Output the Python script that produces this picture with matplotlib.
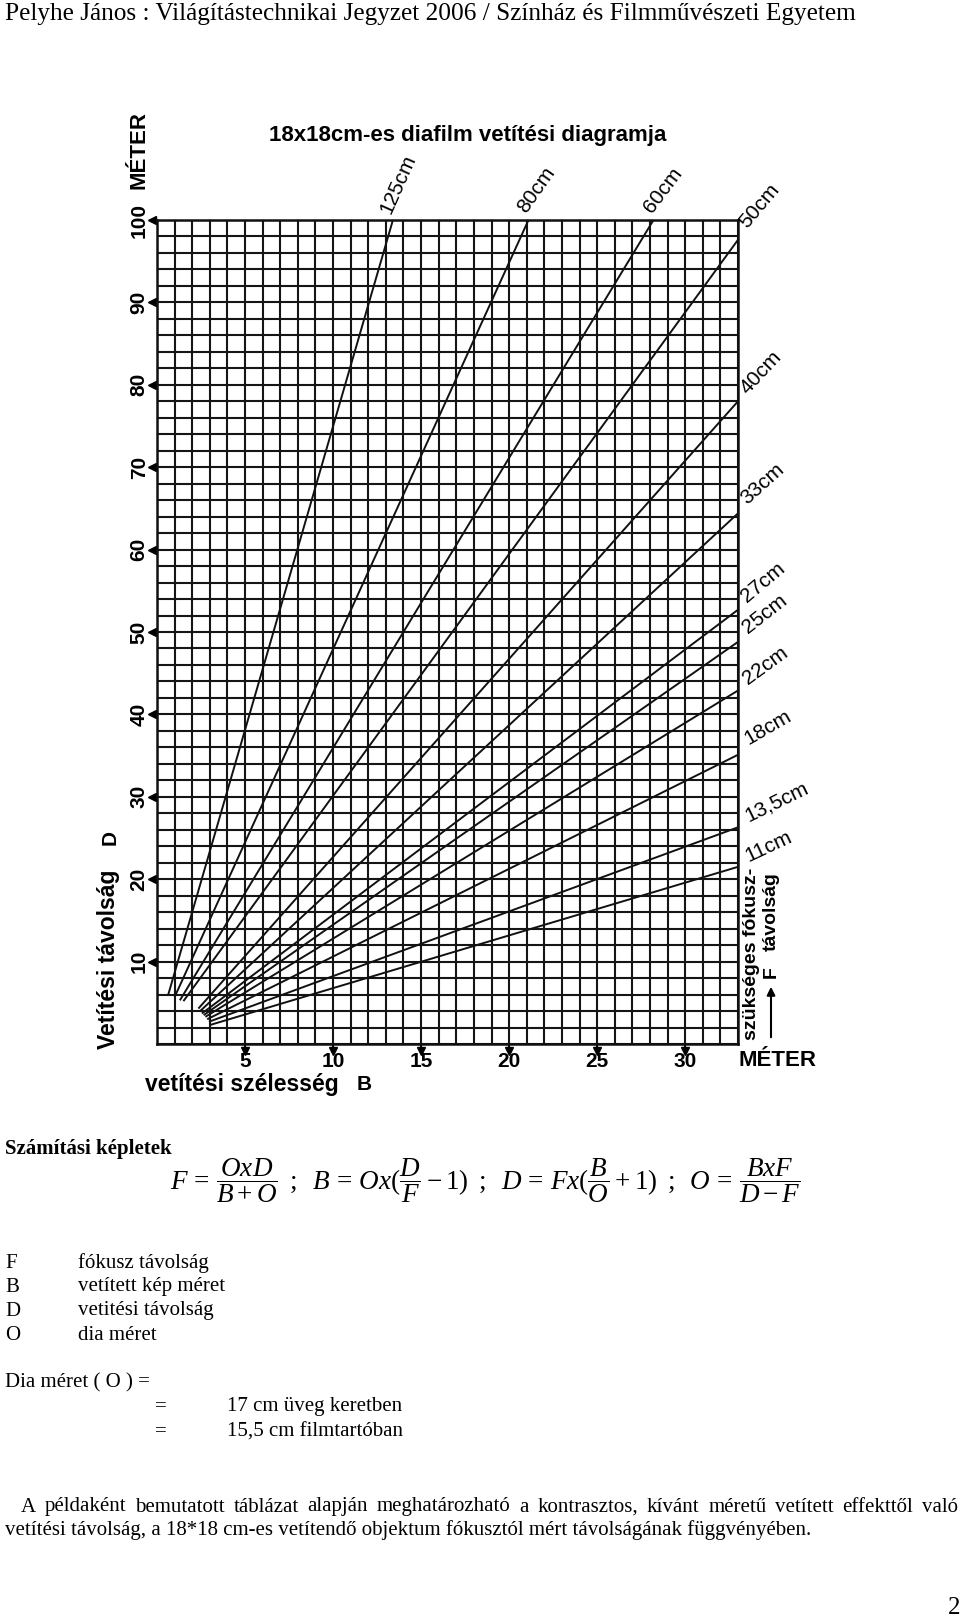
import matplotlib
matplotlib.use("Agg")
import matplotlib.pyplot as plt
import matplotlib.transforms as mtransforms
import numpy as np

# -----------------------------------------
# adatok: vonalak (fókusztávolság), kezdő és végpontok [méter]
# -----------------------------------------
focal_labels = ["125cm", "80cm", "60cm", "50cm", "40cm", "33cm",
                "27cm", "25cm", "22cm", "18cm", "13,5cm", "11cm"]
b_start = [0.64, 1.0, 1.3, 1.5, 2.35, 2.45, 2.55, 2.65, 2.75, 2.85, 2.95, 3.0]
d_start = [6.0, 5.7, 5.3, 5.2, 4.3, 4.0, 3.7, 3.5, 3.3, 3.0, 2.7, 2.3]
b_end = [13.4, 21.1, 28.2, 33, 33, 33, 33, 33, 33, 33, 33, 33]
d_end = [100, 100, 100, 97.6, 78.0, 64.4, 52.7, 48.8, 42.9, 35.1, 26.3, 21.5]

x_ticks = [5, 10, 15, 20, 25, 30]
y_ticks = [10, 20, 30, 40, 50, 60, 70, 80, 90, 100]

# címkék helye (pixel) és dőlésszöge
label_pos = [(394, 217), (529, 216), (655, 216), (750, 232), (750, 398), (750, 508),
             (750, 606), (750, 637), (750, 688), (750, 748), (750, 825), (750, 866)]
label_rot = [66, 55, 53, 50, 47, 42, 40, 38, 36, 30, 26, 25]

W, H = 960, 1620
SANS = ["Liberation Sans", "DejaVu Sans"]
SERIF = ["Liberation Serif", "DejaVu Serif"]
BODY = 15

plt.rcParams.update({
    "mathtext.fontset": "custom",
    "mathtext.rm": "Liberation Serif",
    "mathtext.it": "Liberation Serif:italic",
    "mathtext.bf": "Liberation Serif:bold",
})


def fx(px):
    return px / W


def fy(py):
    return 1 - py / H


fig = plt.figure(figsize=(9.6, 16.2), dpi=100)
fig.patch.set_facecolor("white")

# fejléc
fig.text(fx(5), fy(14), "Pelyhe János : Világítástechnikai Jegyzet 2006 / Színház és Filmművészeti Egyetem",
         family=SERIF, fontsize=18.2, ha="left", va="center")

# -----------------------------------------
# diagram
# -----------------------------------------
ax = fig.add_axes([fx(157), fy(1044), (738 - 157) / W, (1044 - 220) / H])
ax.set_xlim(0, 33)
ax.set_ylim(0, 100)
ax.set_xticks(np.arange(0, 34, 1), minor=True)
ax.set_yticks(np.arange(0, 101, 2), minor=True)
ax.set_xticks(x_ticks)
ax.set_yticks(y_ticks)
ax.set_xticklabels([str(v) for v in x_ticks], family=SANS, fontweight="bold", fontsize=15)
ax.set_yticklabels([str(v) for v in y_ticks], family=SANS, fontweight="bold", fontsize=15,
                   rotation=90, va="center")
ax.tick_params(which="both", length=0)
ax.tick_params(axis="x", pad=6)
ax.tick_params(axis="y", pad=6)
ax.grid(which="both", color="#151515", lw=1.5)
for s in ax.spines.values():
    s.set_linewidth(1.8)
    s.set_color("#111111")
ax.set_axisbelow(True)

for i in range(len(focal_labels)):
    ax.plot([b_start[i], b_end[i]], [d_start[i], d_end[i]], color="#111111", lw=1.4,
            solid_capstyle="butt", clip_on=False)

# tengely nyilak
trans_y = mtransforms.blended_transform_factory(ax.transAxes, ax.transData)
for v in y_ticks:
    ax.plot([-0.009], [v], marker="<", ms=6, color="black", transform=trans_y, clip_on=False)
trans_x = mtransforms.blended_transform_factory(ax.transData, ax.transAxes)
for v in x_ticks:
    ax.plot([v, v], [0, -0.006], color="black", lw=1.5, transform=trans_x, clip_on=False)
    ax.plot([v], [-0.008], marker="v", ms=6, color="black", transform=trans_x, clip_on=False)

# vonalcímkék
for lab, (px, py), rot in zip(focal_labels, label_pos, label_rot):
    fig.text(fx(px), fy(py), lab, family=SANS, fontsize=15, rotation=rot,
             rotation_mode="anchor", ha="left", va="bottom")

fig.text(fx(468), fy(135), "18x18cm-es diafilm vetítési diagramja", family=SANS,
         fontweight="bold", fontsize=16, ha="center", va="center")
fig.text(fx(139), fy(150), "MÉTER", family=SANS, fontweight="bold", fontsize=16,
         rotation=90, ha="center", va="center")
fig.text(fx(109), fy(1049), "Vetítési távolság", family=SANS, fontweight="bold",
         fontsize=16.5, rotation=90, ha="center", va="bottom")
fig.text(fx(110), fy(837), "D", family=SANS, fontweight="heavy", fontsize=15,
         rotation=90, ha="center", va="center")
fig.text(fx(145), fy(1085), "vetítési szélesség", family=SANS, fontweight="bold",
         fontsize=16.5, ha="left", va="center")
fig.text(fx(357), fy(1085), "B", family=SANS, fontweight="heavy", fontsize=15,
         ha="left", va="center")
fig.text(fx(738), fy(1060), "MÉTER", family=SANS, fontweight="bold", fontsize=16,
         ha="left", va="center")
fig.text(fx(752), fy(1040), "szükséges fókusz-", family=SANS, fontweight="bold",
         fontsize=14, rotation=90, ha="center", va="bottom")
fig.text(fx(771), fy(951), "távolság", family=SANS, fontweight="bold",
         fontsize=14, rotation=90, ha="center", va="bottom")
fig.text(fx(771), fy(972), "F", family=SANS, fontweight="bold",
         fontsize=14, rotation=90, ha="center", va="center")
fig.add_artist(matplotlib.patches.FancyArrowPatch(
    (fx(771), fy(1040)), (fx(771), fy(984)), transform=fig.transFigure,
    arrowstyle="-|>", mutation_scale=12, color="black", lw=1.5))

# -----------------------------------------
# képletek, magyarázat
# -----------------------------------------
fig.text(fx(5), fy(1149), "Számítási képletek", family=SERIF, fontweight="bold",
         fontsize=BODY, ha="left", va="center")
formula = (r"$F\,=\,\dfrac{OxD}{B+O}\;\;;\;\;B\,=\,Ox(\dfrac{D}{F}-1)\;\;;\;\;"
           r"D\,=\,Fx(\dfrac{B}{O}+1)\;\;;\;\;O\,=\,\dfrac{BxF}{D-F}$")
fig.text(fx(170), fy(1181), formula, fontsize=19.5, ha="left", va="center")

defs_sym = ["F", "B", "D", "O"]
defs_txt = ["fókusz távolság", "vetített kép méret", "vetitési távolság", "dia méret"]
for k, (s, t) in enumerate(zip(defs_sym, defs_txt)):
    yy = 1263 + k * 24
    fig.text(fx(5), fy(yy), s, family=SERIF, fontsize=BODY, ha="left", va="center")
    fig.text(fx(78), fy(yy), t, family=SERIF, fontsize=BODY, ha="left", va="center")

fig.text(fx(5), fy(1383), "Dia méret ( O ) =", family=SERIF, fontsize=BODY, ha="left", va="center")
fig.text(fx(155), fy(1407), "=", family=SERIF, fontsize=BODY, ha="left", va="center")
fig.text(fx(227), fy(1407), "17 cm üveg keretben", family=SERIF, fontsize=BODY, ha="left", va="center")
fig.text(fx(155), fy(1432), "=", family=SERIF, fontsize=BODY, ha="left", va="center")
fig.text(fx(227), fy(1432), "15,5 cm filmtartóban", family=SERIF, fontsize=BODY, ha="left", va="center")

# sorkizárt első sor
line1 = ("A példaként bemutatott táblázat alapján meghatározható a kontrasztos, "
         "kívánt méretű vetített effekttől való").split()
renderer = fig.canvas.get_renderer()
widths = []
arts = []
for w in line1:
    t = fig.text(0, fy(1507), w, family=SERIF, fontsize=BODY, ha="left", va="center")
    widths.append(t.get_window_extent(renderer).width)
    arts.append(t)
x0, x1 = 21, 958
gap = (x1 - x0 - sum(widths)) / (len(line1) - 1)
xc = x0
for t, wd in zip(arts, widths):
    t.set_x(fx(xc))
    xc += wd + gap

fig.text(fx(5), fy(1530), "vetítési távolság, a 18*18 cm-es vetítendő objektum fókusztól mért "
         "távolságának függvényében.", family=SERIF, fontsize=BODY, ha="left", va="center")

fig.text(fx(960), fy(1608), "2", family=SERIF, fontsize=18, ha="right", va="center")

fig.savefig("out.png", dpi=100, facecolor="white")
